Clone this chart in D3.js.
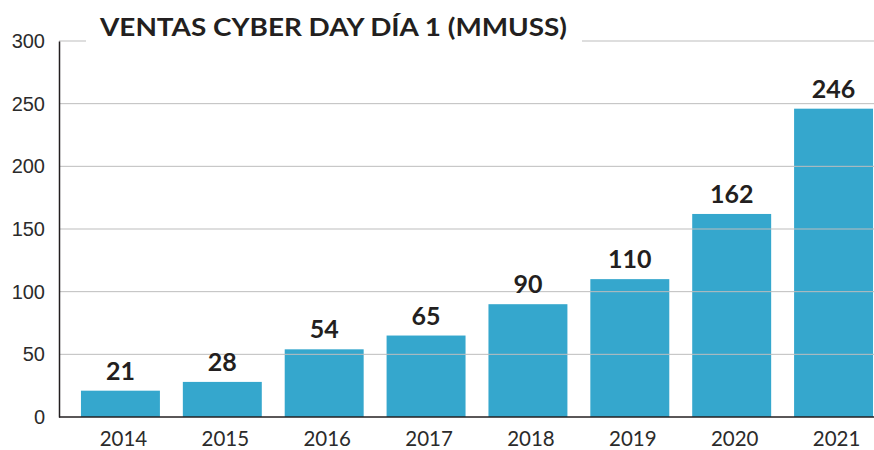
<!DOCTYPE html>
<html>
<head>
<meta charset="utf-8">
<script src="https://cdn.jsdelivr.net/npm/d3@7"></script>
<style>
  body { margin: 0; background: #fff; }
</style>
</head>
<body>
<div id="chart"></div>
<script>
// data
var years = ["2014", "2015", "2016", "2017", "2018", "2019", "2020", "2021"];
var ventas = [21, 28, 54, 65, 90, 110, 162, 246];
var yTicks = [0, 50, 100, 150, 200, 250, 300];
var titulo = "VENTAS CYBER DAY DÍA 1 (MMUSS)";

var width = 874, height = 450;

var svg = d3.select("#chart").append("svg")
    .attr("width", width)
    .attr("height", height);

var x = d3.scaleBand()
    .domain(years)
    .range([69.5, 884.5])
    .paddingInner(0.225)
    .paddingOuter(0.1125);

var y = d3.scaleLinear()
    .domain([0, 300])
    .range([417, 41]);

// bars
svg.selectAll("rect.bar")
    .data(ventas)
    .enter().append("rect")
    .attr("class", "bar")
    .attr("x", function (d, i) { return x(years[i]); })
    .attr("y", function (d) { return y(d); })
    .attr("width", x.bandwidth())
    .attr("height", function (d) { return y(0) - y(d); })
    .attr("fill", "#35a7cd");

// gridlines (drawn over the bars)
svg.selectAll("line.grid")
    .data(yTicks.filter(function (t) { return t > 0; }))
    .enter().append("line")
    .attr("class", "grid")
    .attr("x1", 59)
    .attr("x2", width)
    .attr("y1", function (d) { return y(d); })
    .attr("y2", function (d) { return y(d); })
    .attr("stroke", "#bdbdbd")
    .attr("stroke-width", 1);

// y axis
var yAxis = d3.axisLeft(y).tickValues(yTicks).tickSize(0).tickPadding(14);
var gy = svg.append("g")
    .attr("transform", "translate(59,0)")
    .call(yAxis);
gy.select(".domain").attr("stroke", "#231f20").attr("stroke-width", 1.5);
gy.selectAll("text")
    .attr("font-family", "'Liberation Sans', Arial, sans-serif")
    .attr("font-size", "20px")
    .attr("fill", "#2b2b2b");

// x axis
var xAxis = d3.axisBottom(x).tickSize(0).tickPadding(14);
var gx = svg.append("g")
    .attr("transform", "translate(0," + y(0) + ")")
    .call(xAxis);
gx.select(".domain").remove();
gx.selectAll("text")
    .attr("dx", 3)
    .attr("font-family", "Lato, sans-serif")
    .attr("font-size", "20.5px")
    .attr("fill", "#2b2b2b");
svg.append("line")
    .attr("x1", 59)
    .attr("x2", width)
    .attr("y1", y(0))
    .attr("y2", y(0))
    .attr("stroke", "#231f20")
    .attr("stroke-width", 1.5);

// value labels
svg.selectAll("text.valor")
    .data(ventas)
    .enter().append("text")
    .attr("class", "valor")
    .attr("x", function (d, i) { return x(years[i]) + x.bandwidth() / 2; })
    .attr("y", function (d) { return y(d) - 11; })
    .attr("text-anchor", "middle")
    .attr("font-family", "Lato, sans-serif")
    .attr("font-weight", "bold")
    .attr("font-size", "25px")
    .attr("fill", "#231f20")
    .text(function (d) { return d; });

// title on a white box over the top gridline
svg.append("rect")
    .attr("x", 86)
    .attr("y", 10)
    .attr("width", 496)
    .attr("height", 40)
    .attr("fill", "#fff");
svg.append("text")
    .attr("x", 100)
    .attr("y", 36)
    .attr("font-family", "Lato, sans-serif")
    .attr("font-weight", "bold")
    .attr("font-size", "25px")
    .attr("textLength", 467)
    .attr("lengthAdjust", "spacingAndGlyphs")
    .attr("fill", "#231f20")
    .text(titulo);
</script>
</body>
</html>
